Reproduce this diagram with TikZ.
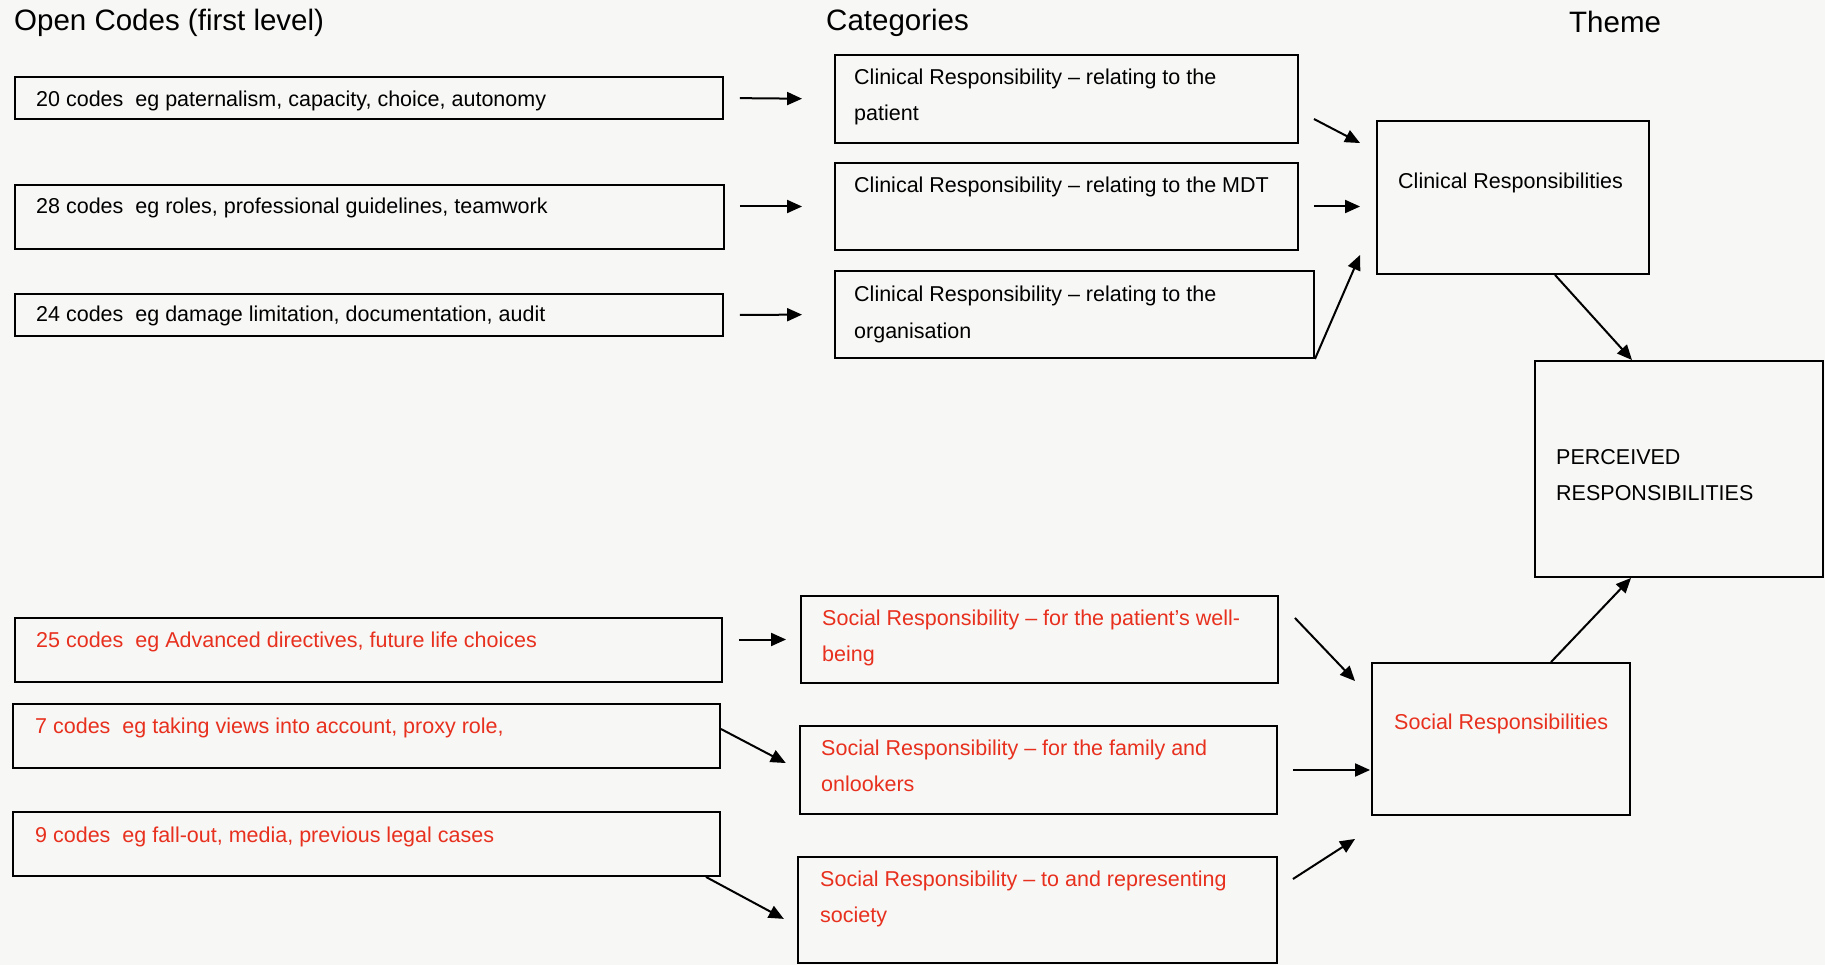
\documentclass[tikz,border=0pt]{standalone}
\usepackage{fontspec}
\setmainfont{Liberation Sans}
\usetikzlibrary{arrows.meta,calc}
\definecolor{paper}{HTML}{F7F7F5}
\definecolor{socred}{RGB}{232,48,30}
\begin{document}
\begin{tikzpicture}[x=1pt,y=-1pt,
  box/.style={draw=black,line width=1.9pt,inner sep=0pt,minimum width=#1},
  txt/.style={anchor=base west,inner sep=0pt,align=left,font=\fontsize{21.5}{36}\selectfont},
  head/.style={anchor=base west,inner sep=0pt,font=\fontsize{29.5}{34}\selectfont},
  soc/.style={text=socred},
  arr/.style={line width=2pt,-{Triangle[length=15pt,width=13pt]}}]
% page
\fill[paper] (0,0) rectangle (1825,965);
\useasboundingbox (0,0) rectangle (1825,965);

% column headings
\node[head] (h1) at (14,31) {Open Codes (first level)};
\node[head] (h2) at (826,31) {Categories};
\node[head] (h3) at (1569,33) {Theme};

% open codes
\node[box=708pt,minimum height=42pt] (b1) at (369,98) {};
\node[box=709pt,minimum height=64pt] (b2) at (369.5,217) {};
\node[box=708pt,minimum height=42pt] (b3) at (369,315) {};
\node[box=707pt,minimum height=64pt] (b4) at (368.5,650) {};
\node[box=707pt,minimum height=64pt] (b5) at (366.5,736) {};
\node[box=707pt,minimum height=64pt] (b6) at (366.5,844) {};
\node[txt] (b1t) at (36,107) {20 codes\ \ eg paternalism, capacity, choice, autonomy};
\node[txt] (b2t) at (36,214) {28 codes\ \ eg roles, professional guidelines, teamwork};
\node[txt] (b3t) at (36,322) {24 codes\ \ eg damage limitation, documentation, audit};
\node[txt,soc] (b4t) at (36,647) {25 codes\ \ eg Advanced directives, future life choices};
\node[txt,soc] (b5t) at (35,733) {7 codes\ \ eg taking views into account, proxy role,};
\node[txt,soc] (b6t) at (35,842) {9 codes\ \ eg fall-out, media, previous legal cases};

% categories (two-line texts are placed by the baseline of their last line)
\node[box=463pt,minimum height=88pt] (c1) at (1066.5,99) {};
\node[box=463pt,minimum height=87pt] (c2) at (1066.5,206.5) {};
\node[box=479pt,minimum height=87pt] (c3) at (1074.5,314.5) {};
\node[box=477pt,minimum height=87pt] (s1) at (1039.5,639.5) {};
\node[box=477pt,minimum height=88pt] (s2) at (1038.5,770) {};
\node[box=479pt,minimum height=106pt] (s3) at (1037.5,910) {};
\node[txt] (c1t) at (854,121) {Clinical Responsibility -- relating to the\\patient};
\node[txt] (c2t) at (854,193) {Clinical Responsibility -- relating to the MDT};
\node[txt] (c3t) at (854,338) {Clinical Responsibility -- relating to the\\organisation};
\node[txt,soc] (s1t) at (822,661) {Social Responsibility -- for the patient's well-\\being};
\node[txt,soc] (s2t) at (821,791) {Social Responsibility -- for the family and\\onlookers};
\node[txt,soc] (s3t) at (820,922) {Social Responsibility -- to and representing\\society};

% themes
\node[box=272pt,minimum height=153pt] (t1) at (1513,197.5) {};
\node[box=258pt,minimum height=152pt] (t2) at (1501,739) {};
\node[box=288pt,minimum height=216pt] (p) at (1679,469) {};
\node[txt] (t1t) at (1398,189) {Clinical Responsibilities};
\node[txt,soc] (t2t) at (1394,729) {Social Responsibilities};
\node[txt] (pt) at (1556,500) {PERCEIVED\\RESPONSIBILITIES};

% open codes -> categories
\draw[arr,shorten <=16pt,shorten >=32pt] (b1.east) -- (c1.west);
\draw[arr,shorten <=15pt,shorten >=32pt] (b2.east |- c2.west) -- (c2.west);
\draw[arr,shorten <=16pt,shorten >=32pt] (b3.east) -- (c3.west);
\draw[arr,shorten <=16pt,shorten >=14pt] (b4.east |- s1.west) -- (s1.west);
\draw[arr,shorten >=15pt] ([yshift=7pt]b5.east) -- (s2.west);
\draw[arr,shorten >=15pt] ([xshift=-15pt]b6.south east) -- ([yshift=-16pt]s3.west);

% categories -> themes
\draw[arr] ([xshift=15pt,yshift=-20pt]c1.east) -- ([xshift=-16pt,yshift=-23pt]t1.north west);
\draw[arr,shorten <=15pt,shorten >=16pt] (c2.east) -- (c2.east -| t1.west);
\draw[arr] (c3.south east) -- ([xshift=-16pt,yshift=20pt]t1.south west);
\draw[arr] ([xshift=16pt,yshift=21.5pt]s1.east) -- ([xshift=-16pt,yshift=-19pt]t2.north west);
\draw[arr,shorten <=15pt,shorten >=1pt] (s2.east) -- (s2.east -| t2.west);
\draw[arr] ([xshift=15pt,yshift=31pt]s3.east) -- ([xshift=-16pt,yshift=-23pt]t2.south west);

% themes -> overall theme
\draw[arr] ([xshift=42pt]t1.south) -- ([xshift=-47pt]p.north);
\draw[arr] ([xshift=50pt]t2.north) -- ([xshift=-48pt]p.south);
\end{tikzpicture}
\end{document}
